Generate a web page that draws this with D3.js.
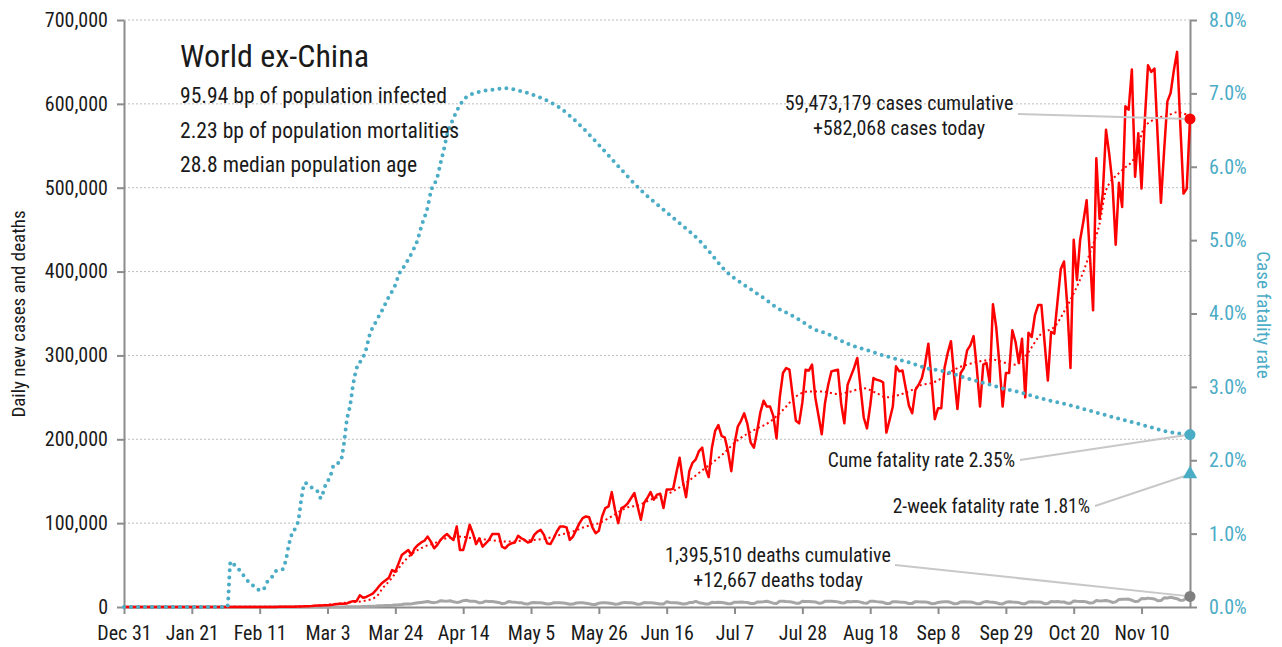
<!DOCTYPE html>
<html>
<head>
<meta charset="utf-8">
<script src="https://cdn.jsdelivr.net/npm/d3@7"></script>
<style>
  body { margin: 0; background: #fff; }
  svg text {
    font-family: "Roboto Condensed", "Liberation Sans Narrow", "DejaVu Sans Condensed", Roboto, sans-serif;
    font-stretch: condensed;
    fill: #1a1a1a;
  }
  .axis .domain, .axis line { stroke: #8c8c8c; stroke-width: 2; }
  .axis--right text { fill: #4bacc6; }
  .grid { stroke: #bdbdbd; stroke-width: 1; stroke-dasharray: 2 2; }
  .leader { stroke: #c8c8c8; stroke-width: 2; fill: none; }
</style>
</head>
<body>
<script>
const startDate = '2019-12-31';

const tickDates = ['2019-12-31', '2020-01-21', '2020-02-11', '2020-03-03', '2020-03-24', '2020-04-14',
  '2020-05-05', '2020-05-26', '2020-06-16', '2020-07-07', '2020-07-28', '2020-08-18',
  '2020-09-08', '2020-09-29', '2020-10-20', '2020-11-10'];

const casesTicks = [0, 100000, 200000, 300000, 400000, 500000, 600000, 700000];
const rateTicks = [0, 0.01, 0.02, 0.03, 0.04, 0.05, 0.06, 0.07, 0.08];

// daily new cases (thousands), one value per day from Dec 31
const newCases = [
  0, 0, 0, 0, 0, 0, 0,
  0, 0, 0, 0, 0, 0, 0,
  0, 0, 0, 0, 0, 0, 0,
  0, 0, 0, 0, 0, 0, 0.01,
  0.01, 0.01, 0.01, 0.02, 0.02, 0.02, 0.02,
  0.02, 0.03, 0.02, 0.03, 0.02, 0.03, 0.04,
  0.05, 0.07, 0.08, 0.09, 0.11, 0.12, 0.15,
  0.2, 0.25, 0.3, 0.4, 0.42, 0.5, 0.6,
  0.8, 0.9, 1.1, 1.4, 1.7, 1.8, 2.0,
  2.2, 2.5, 3.0, 3.5, 3.9, 4.0, 4.2,
  6, 7, 7, 14, 11, 12, 14,
  16, 20, 25, 29, 32, 35, 44,
  42, 52, 62, 65, 68, 62, 70,
  74, 77, 79, 84, 78, 70, 74,
  80, 84, 87, 83, 80, 96, 68,
  68, 82, 98, 88, 75, 82, 72,
  76, 80, 87, 87, 87, 72, 70,
  74, 76, 77, 85, 82, 80, 77,
  78, 86, 90, 92, 86, 76, 75,
  82, 90, 96, 96, 95, 80, 84,
  92, 100, 106, 108, 107, 95, 88,
  91, 108, 118, 120, 137, 116, 100,
  118, 120, 124, 130, 136, 120, 104,
  124, 130, 137, 128, 134, 135, 118,
  140, 140, 141, 160, 178, 150, 131,
  162, 172, 176, 186, 190, 166, 155,
  190, 210, 217, 204, 202, 185, 162,
  195, 215, 222, 231, 218, 196, 190,
  210, 232, 246, 239, 239, 228, 201,
  250, 279, 285, 283, 252, 222, 219,
  244, 283, 282, 289, 250, 228, 206,
  243, 265, 281, 282, 283, 243, 219,
  265, 275, 285, 297, 262, 226, 213,
  240, 273, 271, 270, 268, 208, 223,
  239, 287, 281, 282, 261, 240, 231,
  259, 265, 273, 290, 314, 271, 224,
  237, 237, 285, 303, 317, 275, 236,
  279, 285, 306, 312, 323, 285, 239,
  289, 291, 267, 361, 334, 290, 239,
  279, 279, 330, 316, 291, 320, 250,
  327, 322, 348, 360, 360, 315, 270,
  328, 326, 365, 403, 412, 360, 285,
  438, 390, 438, 460, 485, 420, 354,
  535, 463, 493, 569, 540, 505, 432,
  506, 477, 597, 593, 641, 513, 565,
  499, 580, 646, 638, 642, 560, 482,
  545, 603, 613, 640, 662, 575, 493,
  499, 582.068
];

// daily new deaths (thousands), same days
const newDeaths = [
  0, 0, 0, 0, 0, 0, 0,
  0, 0, 0, 0, 0, 0, 0,
  0, 0, 0, 0, 0, 0, 0,
  0, 0, 0, 0, 0, 0, 0,
  0, 0, 0, 0, 0, 0.001, 0,
  0, 0, 0, 0, 0, 0, 0,
  0, 0, 0, 0.001, 0, 0, 0.001,
  0.001, 0.002, 0.002, 0.003, 0.004, 0.005, 0.008,
  0.01, 0.01, 0.02, 0.02, 0.02, 0.02, 0.03,
  0.04, 0.05, 0.07, 0.08, 0.1, 0.1, 0.2,
  0.2, 0.3, 0.3, 0.4, 0.5, 0.6, 0.8,
  0.9, 1.1, 1.4, 1.6, 1.7, 1.8, 2.0,
  2.3, 2.6, 3.0, 3.5, 3.6, 3.7, 4.5,
  5.0, 5.5, 6.0, 6.5, 5.6, 5.2, 5.8,
  7.5, 7.2, 7.0, 7.5, 6.2, 5.5, 6.0,
  7.6, 8.0, 7.0, 7.0, 6.5, 5.0, 5.5,
  7.0, 6.5, 6.5, 6.0, 5.5, 4.0, 4.5,
  6.5, 6.0, 5.8, 5.2, 5.2, 3.8, 3.5,
  5.0, 5.5, 5.2, 5.0, 4.4, 3.5, 3.8,
  5.0, 5.2, 5.0, 4.8, 4.2, 3.2, 3.5,
  4.8, 5.0, 5.0, 4.6, 4.0, 2.9, 3.0,
  4.5, 5.0, 5.0, 4.8, 4.3, 3.2, 3.6,
  4.8, 5.5, 5.0, 5.0, 4.5, 3.2, 3.7,
  5.3, 5.0, 5.0, 4.8, 4.2, 3.6, 3.7,
  6.2, 5.3, 5.2, 5.0, 4.4, 3.6, 3.8,
  5.3, 5.4, 6.7, 5.1, 4.6, 3.5, 3.7,
  5.6, 5.4, 5.6, 5.3, 4.7, 3.8, 4.0,
  5.8, 5.7, 5.9, 5.6, 5.4, 4.2, 4.1,
  5.9, 6.0, 6.3, 6.9, 5.8, 4.6, 4.1,
  6.8, 6.8, 6.5, 6.4, 5.6, 4.6, 4.5,
  6.8, 6.5, 6.6, 6.4, 6.0, 4.5, 4.8,
  6.8, 6.9, 6.8, 6.7, 6.1, 5.0, 4.8,
  6.6, 6.4, 6.6, 6.7, 5.8, 4.7, 4.5,
  6.8, 6.9, 6.4, 6.0, 5.6, 4.2, 4.2,
  6.4, 6.3, 6.0, 5.8, 5.3, 4.1, 4.3,
  6.4, 6.2, 6.1, 6.1, 5.4, 4.0, 4.1,
  5.5, 5.9, 6.2, 6.4, 5.3, 3.9, 4.1,
  6.0, 6.3, 6.0, 5.9, 5.3, 4.0, 3.8,
  5.8, 6.5, 5.9, 5.6, 5.2, 3.8, 3.7,
  5.6, 6.3, 6.0, 5.8, 5.2, 4.0, 4.0,
  6.0, 6.3, 6.0, 6.1, 5.6, 3.9, 4.3,
  6.5, 6.3, 6.6, 6.0, 6.0, 4.6, 4.6,
  7.2, 6.8, 6.6, 6.7, 6.0, 4.7, 5.2,
  7.8, 7.3, 7.5, 7.8, 7.0, 5.4, 6.1,
  9.0, 9.2, 9.1, 9.4, 8.1, 6.5, 6.9,
  10.1, 9.9, 10.6, 10.0, 9.6, 7.5, 7.7,
  11.0, 10.8, 11.6, 10.7, 9.9, 7.9, 8.1,
  11.5, 12.667
];

// trend of new cases (thousands) at day offsets from Dec 31
const trendDays = [0, 50, 57, 62, 66, 70, 74, 78, 80, 83, 86, 89, 93, 96, 99, 103, 108, 113, 118,
  123, 127, 131, 135, 139, 143, 147, 151, 156, 159, 163, 169, 174, 179, 185, 190, 195, 200,
  204, 208, 212, 216, 221, 225, 229, 233, 236, 240, 244, 247, 250, 254, 257, 261, 265, 269,
  273, 276, 279, 284, 288, 291, 294, 297, 299, 302, 304, 309, 313, 316, 320, 323, 326, 329];
const trendCases = [0, 0.3, 1, 2.5, 4, 5.5, 7, 12, 22, 35, 51, 63, 72, 76, 81, 84, 82, 80, 78,
  79, 80, 82, 86, 90, 96, 100, 108, 119, 121, 128, 136, 148, 163, 181, 199, 211, 221,
  235, 251, 257, 257, 254, 257, 261, 255, 250, 253, 259, 265, 267, 275, 283, 289, 293, 295,
  291, 289, 299, 326, 334, 352, 374, 400, 422, 457, 497, 521, 537, 573, 583, 586, 590, 587];

// cumulative case fatality rate (%) at day offsets from Dec 31
const cfrDays = [0, 32, 33, 34, 36, 38, 40, 42, 43, 44, 46, 47, 49, 50, 51, 52, 53, 54, 55, 56,
  58, 60, 61, 62, 64, 65, 67, 68, 69, 70, 71, 72, 74, 75, 76, 78, 80, 82, 84, 85, 87, 89,
  91, 92, 94, 95, 97, 98, 99, 100, 102, 104, 106, 110, 114, 118, 122, 129, 135, 142, 148, 154,
  160, 166, 172, 178, 182, 186, 191, 195, 199, 202, 206, 210, 213, 218, 221, 225, 230, 235,
  239, 244, 248, 254, 260, 264, 268, 272, 277, 281, 285, 289, 292, 297, 301, 306, 312, 317,
  322, 326, 330];
const cfrPct = [0, 0, 0.62, 0.58, 0.49, 0.37, 0.29, 0.23, 0.23, 0.32, 0.42, 0.49, 0.51, 0.62,
  0.84, 1.0, 1.07, 1.19, 1.5, 1.69, 1.63, 1.57, 1.48, 1.62, 1.8, 1.94, 1.98, 2.2, 2.55,
  2.75, 3.05, 3.25, 3.4, 3.52, 3.7, 3.89, 4.05, 4.23, 4.39, 4.52, 4.66, 4.82, 5.02, 5.18,
  5.45, 5.66, 5.86, 6.05, 6.23, 6.43, 6.66, 6.84, 6.95, 7.02, 7.05, 7.07, 7.04, 6.94, 6.8, 6.53,
  6.25, 5.96, 5.68, 5.45, 5.23, 5.0, 4.8, 4.59, 4.42, 4.3, 4.18, 4.08, 3.99, 3.89, 3.8,
  3.72, 3.65, 3.57, 3.5, 3.43, 3.38, 3.32, 3.26, 3.21, 3.13, 3.08, 3.03, 2.98, 2.93, 2.88,
  2.83, 2.79, 2.76, 2.7, 2.65, 2.59, 2.52, 2.46, 2.4, 2.37, 2.35];

const twoWeekRate = 1.81;

const titleText = 'World ex-China';
const infoLines = ['95.94 bp of population infected', '2.23 bp of population mortalities', '28.8 median population age'];
const casesNote = ['59,473,179 cases cumulative', '+582,068 cases today'];
const deathsNote = ['1,395,510 deaths cumulative', '+12,667 deaths today'];
const cumeNote = 'Cume fatality rate 2.35%';
const twoWeekNote = '2-week fatality rate 1.81%';

const width = 1282,
      height = 647,
      margin = {top: 20, right: 92, bottom: 40, left: 124};

const blue = '#4bacc6';

const parseDate = d3.timeParse('%Y-%m-%d');
const day0 = parseDate(startDate);
const dayDate = i => d3.timeDay.offset(day0, i);

const svg = d3.select('body').append('svg')
    .attr('width', width)
    .attr('height', height);

const x = d3.scaleTime()
    .domain([day0, dayDate(newCases.length - 1)])
    .range([margin.left, width - margin.right]);

const y = d3.scaleLinear()
    .domain([0, 700000])
    .range([height - margin.bottom, margin.top]);

const yRate = d3.scaleLinear()
    .domain([0, 0.08])
    .range([height - margin.bottom, margin.top]);

// dotted gridlines
svg.append('g')
  .selectAll('line')
  .data(casesTicks.slice(1))
  .enter().append('line')
    .attr('class', 'grid')
    .attr('x1', margin.left)
    .attr('x2', width - margin.right)
    .attr('y1', d => y(d))
    .attr('y2', d => y(d));

// axes
svg.append('g')
    .attr('class', 'axis axis--left')
    .attr('transform', `translate(${margin.left},0)`)
    .call(d3.axisLeft(y).tickValues(casesTicks).tickFormat(d3.format(','))
      .tickSize(7).tickSizeOuter(0).tickPadding(9));

svg.append('g')
    .attr('class', 'axis axis--right')
    .attr('transform', `translate(${width - margin.right},0)`)
    .call(d3.axisRight(yRate).tickValues(rateTicks).tickFormat(d3.format('.1%'))
      .tickSize(7).tickSizeOuter(0).tickPadding(12));

svg.append('g')
    .attr('class', 'axis axis--bottom')
    .attr('transform', `translate(0,${height - margin.bottom})`)
    .call(d3.axisBottom(x).tickValues(tickDates.map(parseDate)).tickFormat(d3.timeFormat('%b %-d'))
      .tickSize(7).tickSizeOuter(0).tickPadding(12));

svg.selectAll('.axis text').attr('font-size', 20);

// lines
const casesLine = d3.line()
    .x((d, i) => x(dayDate(i)))
    .y(d => y(d * 1000));

svg.append('path')
    .datum(newDeaths)
    .attr('fill', 'none')
    .attr('stroke', '#a6a6a6')
    .attr('stroke-width', 3)
    .attr('stroke-linejoin', 'round')
    .attr('d', casesLine);

svg.append('path')
    .datum(newCases)
    .attr('fill', 'none')
    .attr('stroke', '#ff0000')
    .attr('stroke-width', 2.5)
    .attr('stroke-linejoin', 'round')
    .attr('d', casesLine);

const trendLine = d3.line()
    .x(d => x(dayDate(d[0])))
    .y(d => y(d[1] * 1000))
    .curve(d3.curveMonotoneX);

svg.append('path')
    .datum(d3.zip(trendDays, trendCases))
    .attr('fill', 'none')
    .attr('stroke', '#ff0000')
    .attr('stroke-width', 2)
    .attr('stroke-dasharray', '2 3')
    .attr('d', trendLine);

const rateLine = d3.line()
    .x(d => x(dayDate(d[0])))
    .y(d => yRate(d[1] / 100))
    .curve(d3.curveMonotoneX);

svg.append('path')
    .datum(d3.zip(cfrDays, cfrPct))
    .attr('fill', 'none')
    .attr('stroke', blue)
    .attr('stroke-width', 4)
    .attr('stroke-linecap', 'round')
    .attr('stroke-dasharray', '0 7')
    .attr('d', rateLine);

// end markers and leaders
const lastX = x(dayDate(newCases.length - 1));
const casesY = y(newCases[newCases.length - 1] * 1000);
const deathsY = y(newDeaths[newDeaths.length - 1] * 1000);
const cumeY = yRate(cfrPct[cfrPct.length - 1] / 100);
const twoWeekY = yRate(twoWeekRate / 100);

const leaders = [
  [1018, 114, lastX, casesY],
  [1020, 460, lastX, cumeY],
  [1095, 506, lastX, twoWeekY],
  [895, 565, lastX, deathsY]
];

svg.append('g')
  .selectAll('line')
  .data(leaders)
  .enter().append('line')
    .attr('class', 'leader')
    .attr('x1', d => d[0])
    .attr('y1', d => d[1])
    .attr('x2', d => d[2])
    .attr('y2', d => d[3]);

svg.append('circle').attr('cx', lastX).attr('cy', casesY).attr('r', 5.5).attr('fill', '#ff0000');
svg.append('circle').attr('cx', lastX).attr('cy', cumeY).attr('r', 5.5).attr('fill', blue);
svg.append('circle').attr('cx', lastX).attr('cy', deathsY).attr('r', 5.5).attr('fill', '#808080');
svg.append('path')
    .attr('d', d3.symbol().type(d3.symbolTriangle).size(90))
    .attr('transform', `translate(${lastX},${twoWeekY})`)
    .attr('fill', blue);

// axis titles
svg.append('text')
    .attr('transform', 'translate(25,314) rotate(-90)')
    .attr('text-anchor', 'middle')
    .attr('font-size', 19)
    .text('Daily new cases and deaths');

svg.append('text')
    .attr('transform', 'translate(1257,315) rotate(90)')
    .attr('text-anchor', 'middle')
    .attr('font-size', 19)
    .style('fill', blue)
    .text('Case fatality rate');

// title block
svg.append('text')
    .attr('x', 180)
    .attr('y', 67)
    .attr('font-size', 32)
    .text(titleText);

svg.append('g')
  .selectAll('text')
  .data(infoLines)
  .enter().append('text')
    .attr('x', 180)
    .attr('y', (d, i) => 103 + i * 34.5)
    .attr('font-size', 21.6)
    .text(d => d);

// notes
svg.append('g')
  .selectAll('text')
  .data(casesNote)
  .enter().append('text')
    .attr('x', 899)
    .attr('y', (d, i) => 110 + i * 25)
    .attr('text-anchor', 'middle')
    .attr('font-size', 20)
    .text(d => d);

svg.append('g')
  .selectAll('text')
  .data(deathsNote)
  .enter().append('text')
    .attr('x', 778)
    .attr('y', (d, i) => 562 + i * 25)
    .attr('text-anchor', 'middle')
    .attr('font-size', 20)
    .text(d => d);

svg.append('text')
    .attr('x', 1015)
    .attr('y', 467)
    .attr('text-anchor', 'end')
    .attr('font-size', 19.5)
    .text(cumeNote);

svg.append('text')
    .attr('x', 1090)
    .attr('y', 513)
    .attr('text-anchor', 'end')
    .attr('font-size', 19.5)
    .text(twoWeekNote);
</script>
</body>
</html>
